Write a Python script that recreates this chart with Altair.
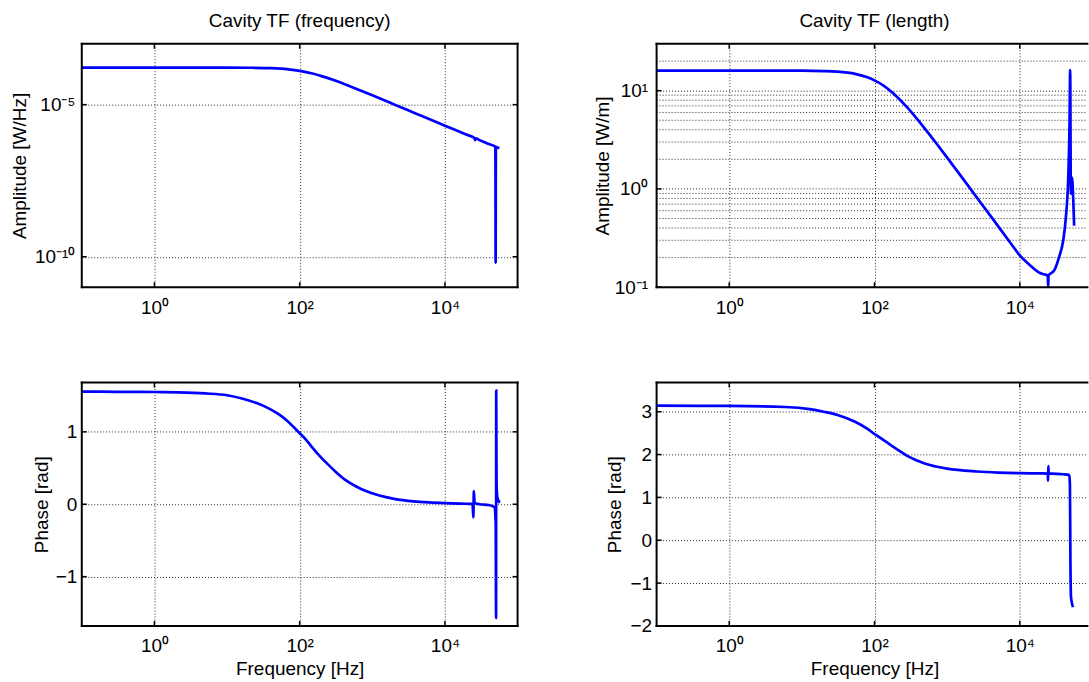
import altair as alt
import pandas as pd

# ---------------- data ----------------
tl_freq = [0.1, 0.3, 1, 3, 10, 20, 40, 70, 100, 150, 200, 300, 500, 700, 1000, 2000,
           3000, 5000, 10000, 20000, 25500, 26000, 26500, 30000, 40000, 49500, 49900,
           50300, 56000]
tl_amp = [1.66e-4, 1.66e-4, 1.66e-4, 1.66e-4, 1.656e-4, 1.637e-4, 1.578e-4, 1.442e-4,
          1.288e-4, 1.052e-4, 8.69e-5, 6.30e-5, 3.96e-5, 2.87e-5, 2.03e-5, 1.019e-5,
          6.79e-6, 4.08e-6, 2.04e-6, 1.021e-6, 8.0e-7, 6.76e-7, 7.85e-7, 6.81e-7,
          5.10e-7, 4.12e-7, 6.3e-11, 4.07e-7, 3.65e-7]

bl_freq = [0.1, 0.3, 1, 2, 5, 10, 16, 25, 38, 50, 66, 80, 100, 120, 142, 180, 245, 320,
           420, 600, 800, 1250, 2000, 3700, 6000, 10000, 20000, 24000, 24600, 25000,
           25600, 30000, 40000, 48000, 50000, 50600, 50800, 51400, 53000, 57000]
bl_phase = [1.555, 1.553, 1.55, 1.545, 1.53, 1.505, 1.46, 1.40, 1.32, 1.25, 1.16, 1.08,
            0.98, 0.90, 0.81, 0.69, 0.55, 0.44, 0.34, 0.245, 0.185, 0.12, 0.075, 0.04,
            0.025, 0.015, 0.007, 0.005, -0.18, 0.18, 0.02, 0.0, -0.01, -0.04, -0.27,
            -1.57, 1.57, 0.25, 0.08, 0.02]

tr_freq = [0.1, 1, 10, 20, 30, 54, 80, 100, 130, 162, 200, 282, 400, 490, 700, 1000,
           1480, 2570, 4470, 7760, 10000, 13500, 19000, 22000, 24300, 24600, 24900,
           29800, 34900, 39600, 43100, 46800, 48400, 49400, 50500, 52100, 56000]
tr_amp = [16.03, 16.03, 16.0, 15.85, 15.63, 14.83, 13.68, 12.74, 11.38, 10.08, 8.79,
          6.76, 4.99, 4.14, 2.95, 2.083, 1.413, 0.816, 0.470, 0.2705, 0.2104, 0.170,
          0.1396, 0.1343, 0.1318, 0.1002, 0.1318, 0.148, 0.204, 0.2985, 0.513, 1.514,
          4.53, 16.2, 0.891, 1.303, 0.4217]

br_freq = [0.1, 1, 5.9, 12.8, 20, 31, 54, 80, 102, 130, 162, 200, 282, 400, 490, 700,
           1000, 2570, 5000, 10000, 20000, 24300, 24500, 24700, 25000, 40000, 46000,
           48000, 49000, 49800, 50600, 52000, 54000]
br_phase = [3.14, 3.135, 3.11, 3.06, 3.0, 2.925, 2.765, 2.60, 2.47, 2.35, 2.24, 2.13,
            1.97, 1.85, 1.79, 1.72, 1.67, 1.605, 1.58, 1.565, 1.56, 1.555, 1.39, 1.73,
            1.56, 1.54, 1.53, 1.51, 1.30, -0.5, -1.30, -1.45, -1.56]

x_ticks = [1, 100, 10000]
tl_yticks = [1e-10, 1e-5]
tr_yticks = [0.1, 1, 10]
tr_minor = [0.2, 0.3, 0.4, 0.5, 0.6, 0.7, 0.8, 0.9, 2, 3, 4, 5, 6, 7, 8, 9, 20]
bl_yticks = [-1, 0, 1]
br_yticks = [-2, -1, 0, 1, 2, 3]

titles = ["Cavity TF (frequency)", "Cavity TF (length)"]
ytitles = ["Amplitude [W/Hz]", "Amplitude [W/m]", "Phase [rad]", "Phase [rad]"]
xtitle = "Frequency [Hz]"

# ---------------- styling ----------------
FONT = "Liberation Sans"
FS = 19
W, WR, H = 437, 432, 244
BLUE = "#0000ff"
GRID = "#2a2a2a"
XLAB = "datum.value < 10 ? '10\u2070' : datum.value < 1000 ? '10\u00b2' : '10\u2074'"
PHLAB = "replace(format(datum.value, 'd'), '-', '\u2212')"
TLLAB = "datum.value < 1e-7 ? '10\u207b\u00b9\u2070' : '10\u207b\u2075'"
TRLAB = "datum.value < 0.5 ? '10\u207b\u00b9' : datum.value < 5 ? '10\u2070' : '10\u00b9'"

one = alt.Data(values=[{"a": 0}])


def panel(freq, vals, xdom, ydom, ytype, yticks, ylab, ytitle, ytitle_x, ylabpad,
          width, show_xtitle, title=None, title_dx=0, minor=None, right_border=True):
    df = pd.DataFrame({"f": freq, "v": vals, "i": list(range(len(freq)))})
    xs = alt.Scale(type="log", domain=xdom, nice=False)
    if ytype == "log":
        ys = alt.Scale(type="log", domain=ydom, nice=False)
    else:
        ys = alt.Scale(type="linear", domain=ydom, nice=False, zero=False)

    xax = dict(values=x_ticks, labelExpr=XLAB, grid=True, gridDash=[1, 2],
               gridColor=GRID, gridWidth=1, ticks=False, domain=False,
               labelPadding=11, labelFontSize=FS, labelFont=FONT,
               labelColor="black", labelOverlap=False)
    if show_xtitle:
        xax.update(title=xtitle, titleFont=FONT, titleFontSize=FS,
                   titleFontWeight="normal", titleColor="black",
                   titleX=218.5, titleY=48.5, titleBaseline="alphabetic",
                   titleAlign="center")
    else:
        xax.update(title="")

    yax = dict(values=yticks, labelExpr=ylab, grid=True, gridDash=[1, 2],
               gridColor=GRID, gridWidth=1, ticks=False, domain=False,
               labelPadding=ylabpad, labelFontSize=FS, labelFont=FONT,
               labelColor="black", labelOverlap=False,
               title=ytitle, titleFont=FONT, titleFontSize=FS,
               titleFontWeight="normal", titleColor="black",
               titleX=ytitle_x, titleY=H / 2, titleBaseline="alphabetic",
               titleAlign="center", titleAngle=270)

    def X():
        return alt.X("f:Q", scale=xs, axis=alt.Axis(**xax))

    def Y():
        return alt.Y("v:Q", scale=ys, axis=alt.Axis(**yax))

    layers = [
        alt.Chart(df).mark_line(color=BLUE, strokeWidth=2.7, interpolate="monotone",
                                clip=True)
        .encode(x=X(), y=Y(), order="i:Q")
    ]
    if minor is not None:
        mdf = pd.DataFrame({"v": minor})
        layers.insert(0,
            alt.Chart(mdf).mark_rule(color=GRID, strokeWidth=1, strokeDash=[1, 2])
            .encode(y=Y(), x=alt.value(0), x2=alt.value(width))
        )
    frame = dict(color="black", strokeWidth=2, strokeCap="square")
    layers.append(alt.Chart(one).mark_rule(**frame).encode(
        x=alt.value(0), x2=alt.value(width), y=alt.value(0)))
    layers.append(alt.Chart(one).mark_rule(**frame).encode(
        x=alt.value(0), x2=alt.value(width), y=alt.value(H)))
    layers.append(alt.Chart(one).mark_rule(**frame).encode(
        x=alt.value(0), y=alt.value(0), y2=alt.value(H)))
    if right_border:
        layers.append(alt.Chart(one).mark_rule(**frame).encode(
            x=alt.value(width), y=alt.value(0), y2=alt.value(H)))

    xt = pd.DataFrame({"f": x_ticks})
    yt = pd.DataFrame({"v": yticks})
    tk = dict(color="black", strokeWidth=1.5)
    layers.append(alt.Chart(xt).mark_rule(**tk).encode(
        x=X(), y=alt.value(H - 5), y2=alt.value(H)))
    layers.append(alt.Chart(xt).mark_rule(**tk).encode(
        x=X(), y=alt.value(0), y2=alt.value(5)))
    layers.append(alt.Chart(yt).mark_rule(**tk).encode(
        y=Y(), x=alt.value(0), x2=alt.value(5)))
    if right_border:
        layers.append(alt.Chart(yt).mark_rule(**tk).encode(
            y=Y(), x=alt.value(width - 5), x2=alt.value(width)))

    props = dict(width=width, height=H)
    if title is not None:
        props["title"] = alt.TitleParams(text=title, font=FONT, fontSize=FS,
                                         fontWeight="normal", color="black",
                                         anchor="middle", baseline="alphabetic",
                                         offset=-3.5, dx=title_dx)
    return alt.layer(*layers).properties(**props)


XDOM_L = [0.1, 1e5]
XDOM_R = [0.1, 85300]

tl = panel(tl_freq, tl_amp, XDOM_L, [1e-11, 1e-3], "log", tl_yticks, TLLAB,
           ytitles[0], -56.5, 7, W, False, title=titles[0])
tr = panel(tr_freq, tr_amp, XDOM_R, [0.1, 30], "log", tr_yticks, TRLAB,
           ytitles[1], -48.1, 9, WR, False, title=titles[1], title_dx=2.5,
           minor=tr_minor, right_border=False)
bl = panel(bl_freq, bl_phase, XDOM_L, [-1.68, 1.68], "linear", bl_yticks, PHLAB,
           ytitles[2], -34, 5, W, True)
br = panel(br_freq, br_phase, XDOM_R, [-2, 3.68], "linear", br_yticks, PHLAB,
           ytitles[3], -35.9, 5, WR, True, right_border=False)

chart = (
    alt.concat(tl, tr, bl, br, columns=2, spacing={"row": 95.7, "column": 139.4},
               bounds="flush")
    .properties(padding={"left": 10, "top": 11, "right": 0, "bottom": 0},
                background="white")
    .configure_view(strokeWidth=0)
)

chart.save("out.html", embed_options={"renderer": "svg", "actions": False})
